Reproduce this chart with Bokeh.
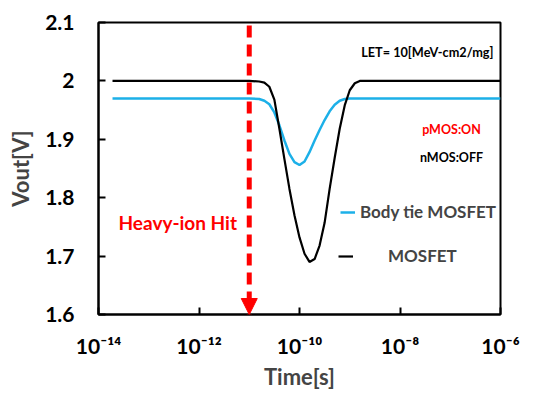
from bokeh.plotting import figure
from bokeh.models import (FixedTicker, Label, Arrow, NormalHead, Legend, LegendItem)
from bokeh.embed import file_html
from bokeh.resources import INLINE

# ---- data ----
t_mosfet = [1.9e-14, 1e-11, 1.58e-11, 2.0e-11, 2.51e-11, 3.16e-11, 3.98e-11, 5.01e-11,
            6.31e-11, 7.94e-11, 1e-10, 1.26e-10, 1.58e-10, 2.0e-10, 2.51e-10, 3.16e-10,
            3.98e-10, 5.01e-10, 6.31e-10, 7.94e-10, 1e-9, 1.26e-9, 1.58e-9, 1e-6]
v_mosfet = [2.000, 2.000, 1.999, 1.997, 1.990, 1.968, 1.918, 1.866, 1.815, 1.770,
            1.732, 1.704, 1.690, 1.695, 1.718, 1.757, 1.815, 1.868, 1.918, 1.958,
            1.984, 1.996, 2.000, 2.000]

t_bodytie = [1.9e-14, 1e-11, 1.58e-11, 2.0e-11, 2.51e-11, 3.16e-11, 3.98e-11, 5.01e-11,
             6.31e-11, 7.94e-11, 1e-10, 1.26e-10, 1.58e-10, 2.0e-10, 2.51e-10, 3.16e-10,
             3.98e-10, 5.01e-10, 6.31e-10, 7.94e-10, 1e-9, 1e-6]
v_bodytie = [1.970, 1.970, 1.969, 1.966, 1.960, 1.946, 1.924, 1.898, 1.875, 1.861,
             1.856, 1.862, 1.878, 1.898, 1.916, 1.933, 1.948, 1.959, 1.966, 1.969,
             1.970, 1.970]

hit_time = 1e-11
x_ticks = [1e-14, 1e-12, 1e-10, 1e-8, 1e-6]
x_tick_labels = ["10\u207b\u00b9\u2074", "10\u207b\u00b9\u00b2", "10\u207b\u00b9\u2070",
                 "10\u207b\u2078", "10\u207b\u2076"]
y_ticks = [1.6, 1.7, 1.8, 1.9, 2.0, 2.1]
y_tick_labels = ["1.6", "1.7", "1.8", "1.9", "2", "2.1"]

FONT = "Lato"
BLUE = "#1CB0E8"

p = figure(width=535, height=394, x_axis_type="log",
           x_range=(1e-14, 1e-6), y_range=(1.6, 2.1),
           output_backend="svg", toolbar_location=None,
           min_border_left=98, min_border_right=35,
           min_border_top=22, min_border_bottom=80)
p.background_fill_color = "white"
p.border_fill_color = "white"
p.grid.visible = False
p.outline_line_color = "black"
p.outline_line_width = 2

for ax in (p.xaxis[0], p.yaxis[0]):
    ax.axis_line_color = "black"
    ax.axis_line_width = 2
    ax.major_tick_line_color = "black"
    ax.major_tick_line_width = 2
    ax.major_tick_in = 7
    ax.major_tick_out = 0
    ax.minor_tick_line_color = None

p.xaxis.ticker = FixedTicker(ticks=x_ticks)
p.xaxis.major_label_overrides = {t: s for t, s in zip(x_ticks, x_tick_labels)}
p.xaxis.major_label_text_font = FONT
p.xaxis.major_label_text_font_style = "bold"
p.xaxis.major_label_text_font_size = "21px"
p.xaxis.major_label_text_color = "black"
p.xaxis.major_label_standoff = 18
p.xaxis.axis_label = "Time[s]"
p.xaxis.axis_label_text_font = FONT
p.xaxis.axis_label_text_font_style = "bold"
p.xaxis.axis_label_text_font_size = "22px"
p.xaxis.axis_label_standoff = 2

p.yaxis.ticker = FixedTicker(ticks=y_ticks)
p.yaxis.major_label_overrides = {t: s for t, s in zip(y_ticks, y_tick_labels)}
p.yaxis.major_label_text_font = FONT
p.yaxis.major_label_text_font_style = "bold"
p.yaxis.major_label_text_font_size = "21px"
p.yaxis.major_label_text_color = "black"
p.yaxis.major_label_standoff = 24
p.yaxis.axis_label = "Vout[V]"
p.yaxis.axis_label_text_font = FONT
p.yaxis.axis_label_text_font_style = "bold"
p.yaxis.axis_label_text_font_size = "22px"
p.yaxis.axis_label_standoff = 8

r_body = p.line(t_bodytie, v_bodytie, line_color=BLUE, line_width=2.5)
r_mos = p.line(t_mosfet, v_mosfet, line_color="black", line_width=2.2)

# heavy-ion hit arrow
p.add_layout(Arrow(x_start=hit_time, y_start=2.095, x_end=hit_time, y_end=1.6,
                   line_color="red", line_width=5, line_dash="12 7",
                   end=NormalHead(size=16, fill_color="red", line_color="red",
                                  line_width=1)))

p.add_layout(Label(x=2.5e-14, y=1.7575, text="Heavy-ion Hit", text_color="red",
                   text_font=FONT, text_font_style="bold", text_font_size="19px",
                   text_baseline="middle", text_align="left"))
p.add_layout(Label(x=1e-6, y=2.1, x_offset=-7, y_offset=-29,
                   text="LET= 10[MeV-cm2/mg]", text_color="black",
                   text_font=FONT, text_font_style="bold", text_font_size="12.7px",
                   text_baseline="middle", text_align="right"))
p.add_layout(Label(x=1.06e-7, y=1.9, text="pMOS:ON", text_color="red",
                   text_font=FONT, text_font_style="bold", text_font_size="12.5px",
                   text_baseline="middle", text_align="center", y_offset=10))
p.add_layout(Label(x=1.06e-7, y=1.9, text="nMOS:OFF", text_color="black",
                   text_font=FONT, text_font_style="bold", text_font_size="12.5px",
                   text_baseline="middle", text_align="center", y_offset=-18))

leg1 = Legend(items=[LegendItem(label="Body tie MOSFET", renderers=[r_body])],
              location=(242, 92), glyph_width=15, glyph_height=20,
              label_standoff=5, padding=0, margin=0, border_line_color=None,
              background_fill_alpha=0, label_text_font=FONT,
              label_text_font_style="bold", label_text_font_size="17px",
              label_height=20)
leg2 = Legend(items=[LegendItem(label="MOSFET", renderers=[r_mos])],
              location=(240, 48), glyph_width=15, glyph_height=20,
              label_standoff=35, padding=0, margin=0, border_line_color=None,
              background_fill_alpha=0, label_text_font=FONT,
              label_text_font_style="bold", label_text_font_size="17px",
              label_height=20)
p.add_layout(leg1)
p.add_layout(leg2)

open("out.html", "w").write(file_html(p, INLINE))
